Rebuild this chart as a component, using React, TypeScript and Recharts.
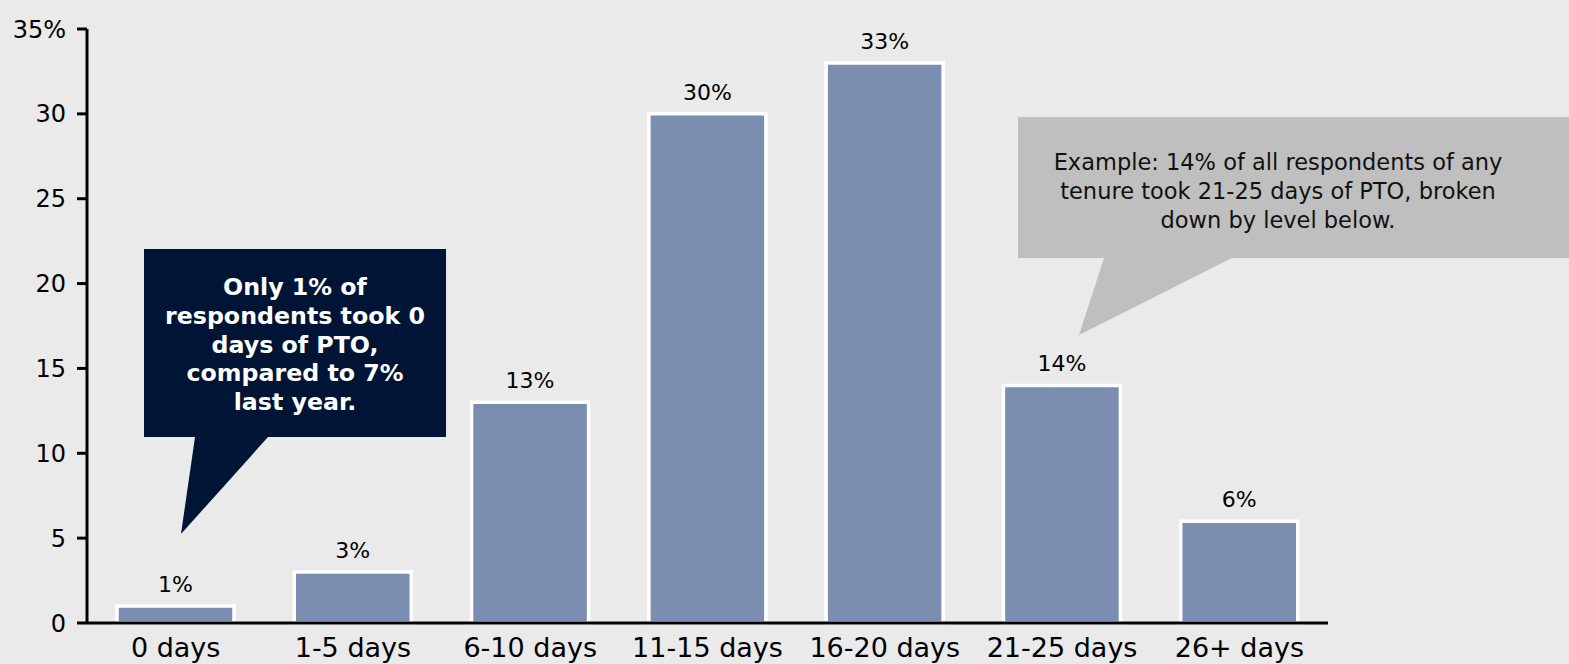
import { BarChart, Bar, XAxis, YAxis, LabelList } from 'recharts';

const categories = ['0 days', '1-5 days', '6-10 days', '11-15 days', '16-20 days', '21-25 days', '26+ days'];
const shares = [1, 3, 13, 30, 33, 14, 6];
const yTicks = [0, 5, 10, 15, 20, 25, 30, 35];

const navyNote = ['Only 1% of', 'respondents took 0', 'days of PTO,', 'compared to 7%', 'last year.'];
const grayNote = [
  'Example: 14% of all respondents of any',
  'tenure took 21-25 days of PTO, broken',
  'down by level below.',
];

const data = categories.map((name, i) => ({ name, value: shares[i] }));

const FONT = '"DejaVu Sans", Verdana, sans-serif';

// speech-bubble style callouts drawn over the chart
function Callouts() {
  return (
    <svg
      width={1569}
      height={664}
      style={{ position: 'absolute', left: 0, top: 0, pointerEvents: 'none' }}
    >
      <polygon
        points='144,249 446,249 446,437 268,437 181,534 195,437 144,437'
        fill='#001535'
      />
      {navyNote.map((line, i) => (
        <text
          key={line}
          x={295}
          y={295 + i * 28.8}
          textAnchor='middle'
          fill='#fff'
          fontWeight='bold'
          fontSize={23.7}
          fontFamily={FONT}
        >
          {line}
        </text>
      ))}
      <polygon
        points='1018,117 1569,117 1569,258 1232,258 1079,335 1104,258 1018,258'
        fill='#bfbfbf'
      />
      {grayNote.map((line, i) => (
        <text
          key={line}
          x={1278}
          y={170 + i * 29}
          textAnchor='middle'
          fill='#111'
          fontSize={22.5}
          fontFamily={FONT}
        >
          {line}
        </text>
      ))}
    </svg>
  );
}

export default function App() {
  return (
    <div
      style={{
        position: 'relative',
        width: 1569,
        height: 664,
        background: '#eaeaea',
        fontFamily: FONT,
        overflow: 'hidden',
      }}
    >
      <style>{'body{margin:0;background:#eaeaea}'}</style>
      <BarChart
        width={1569}
        height={664}
        data={data}
        margin={{ top: 29, right: 241, bottom: 0, left: 0 }}
      >
        <XAxis
          dataKey='name'
          height={41}
          axisLine={{ stroke: '#000', strokeWidth: 3 }}
          tickLine={false}
          tickSize={0}
          tickMargin={15}
          tick={{ fill: '#000', fontSize: 27, fontFamily: FONT }}
          interval={0}
        />
        <YAxis
          width={87}
          domain={[0, 35]}
          ticks={yTicks}
          interval={0}
          axisLine={{ stroke: '#000', strokeWidth: 3 }}
          tickLine={{ stroke: '#000', strokeWidth: 3 }}
          tickSize={10}
          tickMargin={11}
          tick={{ fill: '#000', fontSize: 24, fontFamily: FONT }}
          tickFormatter={(v: number) => (v === 35 ? '35%' : String(v))}
        />
        <Bar
          dataKey='value'
          fill='#7b8db1'
          stroke='#fff'
          strokeWidth={3.5}
          barSize={117}
          isAnimationActive={false}
        >
          <LabelList
            dataKey='value'
            position='top'
            offset={14}
            fill='#000'
            fontSize={22}
            fontFamily={FONT}
            formatter={(v: number) => `${v}%`}
          />
        </Bar>
      </BarChart>
      <Callouts />
    </div>
  );
}
